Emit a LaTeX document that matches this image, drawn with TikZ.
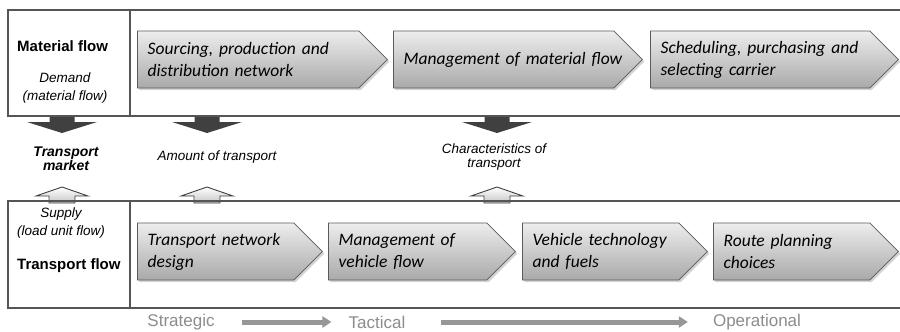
\documentclass[tikz,border=0pt]{standalone}
\usepackage{fontspec}
\setmainfont{Liberation Sans}
\newfontfamily\chevfont{Carlito}
\usetikzlibrary{
  arrows.meta,
  positioning,
  shapes.symbols,
  shadows
}
\definecolor{bandline}{HTML}{555555}
\definecolor{arrdark}{HTML}{404040}
\definecolor{chevline}{HTML}{5A5A5A}
\definecolor{chevtop}{HTML}{EDEDED}
\definecolor{chevbot}{HTML}{A9A9A9}
\definecolor{phasegray}{HTML}{8C8C8C}

\begin{document}
\begin{tikzpicture}[x=1pt, y=-1pt,
      band/.style={draw=bandline, line width=1.8pt},
      chev/.style={
        signal, signal to=east, signal pointer angle=90,
        draw=chevline, line width=0.8pt,
        top color=chevtop, bottom color=chevbot,
        minimum width=#1, text width=#1-49pt,
        minimum height=57pt, inner xsep=10pt, inner ysep=0pt,
        drop shadow={shadow xshift=2pt, shadow yshift=-2pt, opacity=0.35},
        font=\chevfont\itshape\fontsize{17.5}{22}\selectfont, align=left,
        anchor=west
      },
      rowlabel/.style={font=\bfseries\fontsize{15}{18}\selectfont, anchor=west, inner sep=0pt},
      sublabel/.style={font=\itshape\fontsize{13.5}{18}\selectfont, align=center, inner sep=0pt},
      midlabel/.style={font=\itshape\fontsize{13.5}{14}\selectfont, align=center, inner sep=0pt},
      phase/.style={font=\fontsize{17}{20}\selectfont, text=phasegray, inner sep=0pt},
      phasearrow/.style={line width=5pt, phasegray!90, -{Triangle[length=9pt, width=11pt]}},
      downarr/.pic={
        \fill[arrdark] (-12.5,0) -- (12.5,0) -- (12.5,6) -- (35,6) -- (0,17)
          -- (-35,6) -- (-12.5,6) -- cycle;
      },
      uparr/.pic={
        \draw[arrdark, line width=0.9pt, top color=white, bottom color=gray!45]
          (-13,0) -- (13,0) -- (13,-7) -- (26,-7) -- (0,-16) -- (-26,-7)
          -- (-13,-7) -- cycle;
      }
    ]
      \useasboundingbox (0,0) rectangle (900,332);

      % Arrows between the bands
      \pic (dn1) at (62,116) {downarr};
      \pic (dn2) at (207,116) {downarr};
      \pic (dn3) at (497,116) {downarr};
      \pic (up1) at (62,203) {uparr};
      \pic (up2) at (207,203) {uparr};
      \pic (up3) at (497,203) {uparr};

      % Bands
      \draw[band] (900,10) -- (8,10) -- (8,116) -- (900,116);
      \draw[band] (130,10) -- (130,116);
      \draw[band] (900,201) -- (8,201) -- (8,308) -- (900,308);
      \draw[band] (130,201) -- (130,308);

      % Material flow
      \node[rowlabel] (matflow) at (17,46) {Material flow};
      \node[sublabel] (demand) at (65,88) {Demand\\(material flow)};

      \node[chev=250pt] (source) at (137,59.5) {Sourcing, production and\\distribution network};
      \node[chev=249pt] (manage) at (393,59.5) {\mbox{Management of material flow}};
      \node[chev=248pt] (sched) at (650,59.5) {Scheduling, purchasing and\\selecting carrier};

      % Transport market
      \node[midlabel, font=\bfseries\itshape\fontsize{14}{13}\selectfont] (market) at (66,159) {Transport\\market};
      \node[midlabel] (amount) at (217,157) {Amount of transport};
      \node[midlabel] (charact) at (494,157) {Characteristics of\\transport};

      % Transport flow
      \node[sublabel] (supply) at (61,223) {Supply\\(load unit flow)};
      \node[rowlabel] (trflow) at (17,266) {Transport flow};

      \node[chev=185pt] (network) at (137,251.5) {Transport network\\design};
      \node[chev=187pt] (vehflow) at (328,251.5) {Management of\\vehicle flow};
      \node[chev=185pt] (vehtech) at (522,251.5) {Vehicle technology\\and fuels};
      \node[chev=185pt] (route) at (713,251.5) {Route planning\\choices};

      % Planning levels
      \node[phase] (strat) at (181,322) {Strategic};
      \node[phase] (tact) at (377,322) {Tactical};
      \node[phase] (oper) at (757,322) {Operational};
      \draw[phasearrow] ([xshift=27pt]strat.east) -- ([xshift=-17pt]tact.west);
      \draw[phasearrow] ([xshift=35pt]tact.east) -- ([xshift=-25pt]oper.west);
    \end{tikzpicture}
\end{document}
